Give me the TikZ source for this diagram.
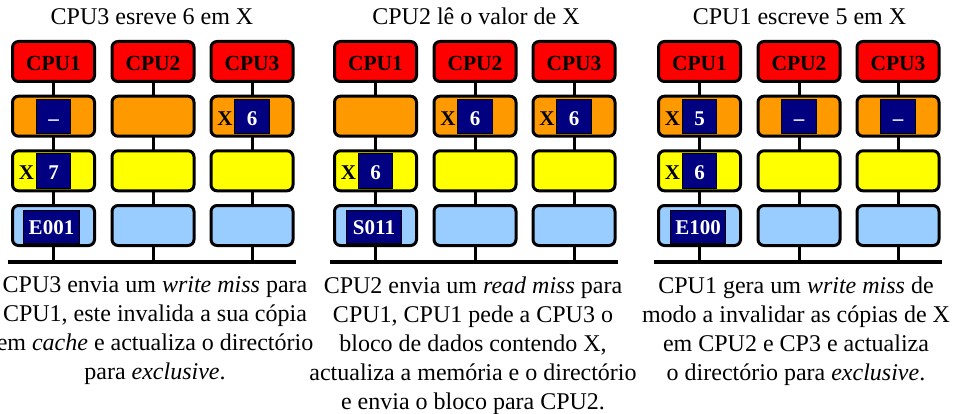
\documentclass[tikz,border=0pt]{standalone}
\usepackage{fontspec}
\setmainfont{Liberation Serif}
\usetikzlibrary{backgrounds}
\definecolor{cpured}{HTML}{FF0000}
\definecolor{cacheorange}{HTML}{FF9900}
\definecolor{memyellow}{HTML}{FFFF00}
\definecolor{dirblue}{HTML}{99CCFF}
\definecolor{valnavy}{HTML}{000080}
\tikzset{
  cell/.style={draw=black, line width=3pt, rounded corners=6pt,
    minimum width=82pt, minimum height=40pt, inner sep=0pt},
  cpubox/.style={cell, fill=cpured, text height=17.5pt, text depth=0pt,
    font=\fontsize{21.5}{24}\selectfont\bfseries},
  cachebox/.style={cell, fill=cacheorange},
  membox/.style={cell, fill=memyellow},
  dirbox/.style={cell, fill=dirblue},
  valbox/.style={draw=black, line width=0.6pt, fill=valnavy, text=white,
    minimum width=34.5pt, minimum height=34.5pt, inner sep=0pt,
    text height=18pt, text depth=0pt,
    font=\fontsize{21}{24}\selectfont\bfseries},
  dirval/.style={valbox, minimum width=55.5pt, minimum height=33.5pt,
    text height=14.2pt, text depth=0pt},
  xlab/.style={inner sep=0pt, text height=18pt, text depth=0pt,
    font=\fontsize{21}{24}\selectfont\bfseries},
  vline/.style={line width=3pt},
  busline/.style={line width=3.5pt},
  title/.style={anchor=base, inner sep=0pt, font=\fontsize{24}{29}\selectfont},
  caption/.style={anchor=north, inner sep=0pt, align=center,
    font=\fontsize{24}{29}\selectfont},
}
\begin{document}
\begin{tikzpicture}[x=1pt, y=-1pt]
\useasboundingbox (0,0) rectangle (955,414);
% panels
\foreach \p/\ox in {1/11, 2/333, 3/657} {
  \foreach \c/\cx in {1/0, 2/99.5, 3/198.5} {
    \node[cpubox] (p\p c\c cpu) at (\ox+\cx+42.5, 61.5) {CPU\c};
    \node[cachebox] (p\p c\c cache) at (\ox+\cx+42.5, 116.2) {};
    \node[membox] (p\p c\c mem) at (\ox+\cx+42.5, 170.8) {};
    \node[dirbox] (p\p c\c dir) at (\ox+\cx+42.5, 225.5) {};
    \coordinate (p\p c\c bus) at (\ox+\cx+42.5, 262);
  }
  \coordinate (p\p L) at (\ox-3.5, 262);
  \coordinate (p\p R) at (\ox+284.5, 262);
}
% titles
\node[title] (t1) at (152, 25) {CPU3 esreve 6 em X};
\node[title] (t2) at (476, 25) {CPU2 lê o valor de X};
\node[title] (t3) at (799.5, 25) {CPU1 escreve 5 em X};
% panel 1 contents
\node[valbox] (p1v1) at (p1c1cache.center) {–};
\node[xlab] (p1x3) at ([xshift=-27pt]p1c3cache.center) {X};
\node[valbox] (p1v3) at (p1c3cache.center) {6};
\node[xlab] (p1xm) at ([xshift=-27pt]p1c1mem.center) {X};
\node[valbox] (p1vm) at (p1c1mem.center) {7};
\node[dirval] (p1d) at ([xshift=-2pt,yshift=-1.5pt]p1c1dir.center) {E001};
% panel 2 contents
\node[xlab] (p2x2) at ([xshift=-27pt]p2c2cache.center) {X};
\node[valbox] (p2v2) at (p2c2cache.center) {6};
\node[xlab] (p2x3) at ([xshift=-27pt]p2c3cache.center) {X};
\node[valbox] (p2v3) at (p2c3cache.center) {6};
\node[xlab] (p2xm) at ([xshift=-27pt]p2c1mem.center) {X};
\node[valbox] (p2vm) at (p2c1mem.center) {6};
\node[dirval] (p2d) at ([xshift=-1.5pt,yshift=-1.5pt]p2c1dir.center) {S011};
% panel 3 contents
\node[xlab] (p3x1) at ([xshift=-27pt]p3c1cache.center) {X};
\node[valbox] (p3v1) at (p3c1cache.center) {5};
\node[valbox] (p3v2) at (p3c2cache.center) {–};
\node[valbox] (p3v3) at (p3c3cache.center) {–};
\node[xlab] (p3xm) at ([xshift=-27pt]p3c1mem.center) {X};
\node[valbox] (p3vm) at (p3c1mem.center) {6};
\node[dirval] (p3d) at ([xshift=-1.5pt,yshift=-1.5pt]p3c1dir.center) {E100};
% captions
\node[caption] (cap1) at (155, 276.5) {CPU3 envia um \textit{write miss} para\\CPU1, este invalida a sua cópia\\em \textit{cache} e actualiza o directório\\para \textit{exclusive}.};
\node[caption] (cap2) at (473, 276.5) {CPU2 envia um \textit{read miss} para\\CPU1, CPU1 pede a CPU3 o\\bloco de dados contendo X,\\actualiza a memória e o directório\\e envia o bloco para CPU2.};
\node[caption] (cap3) at (796, 276.5) {CPU1 gera um \textit{write miss} de\\modo a invalidar as cópias de X\\em CPU2 e CP3 e actualiza\\o directório para \textit{exclusive}.};
% connectors and bus
\begin{scope}[on background layer]
  \fill[white] (0,0) rectangle (955,414);
  \foreach \p in {1,2,3} {
    \foreach \c in {1,2,3} {
      \draw[vline] (p\p c\c cpu.center) -- (p\p c\c bus);
    }
    \draw[busline] (p\p L) -- (p\p R);
  }
\end{scope}
\end{tikzpicture}
\end{document}
